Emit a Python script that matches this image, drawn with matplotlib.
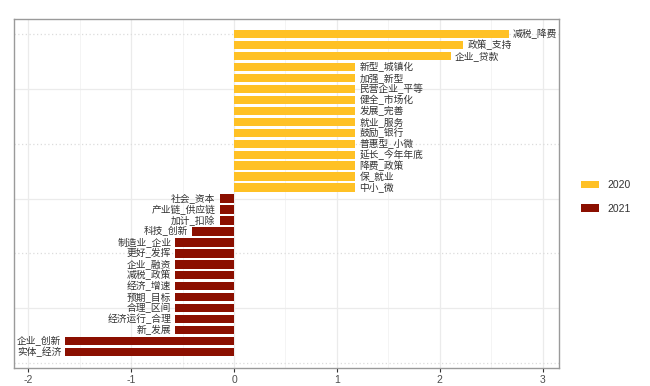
import matplotlib
matplotlib.use("Agg")
import matplotlib.pyplot as plt
from matplotlib.patches import Patch

plt.rcParams['font.family'] = ['Noto Sans CJK SC', 'DejaVu Sans']

labels_2020 = ["减税_降费", "政策_支持", "企业_贷款", "新型_城镇化", "加强_新型", "民营企业_平等",
               "健全_市场化", "发展_完善", "就业_服务", "鼓励_银行", "普惠型_小微", "延长_今年年底",
               "降费_政策", "保_就业", "中小_微"]
values_2020 = [2.67, 2.23, 2.11, 1.18, 1.18, 1.18, 1.18, 1.18, 1.18, 1.18, 1.18, 1.18, 1.18, 1.18, 1.18]

labels_2021 = ["社会_资本", "产业链_供应链", "加计_扣除", "科技_创新", "制造业_企业", "更好_发挥",
               "企业_融资", "减税_政策", "经济_增速", "预期_目标", "合理_区间", "经济运行_合理",
               "新_发展", "企业_创新", "实体_经济"]
values_2021 = [-0.14, -0.14, -0.14, -0.41, -0.57, -0.57, -0.57, -0.57, -0.57, -0.57, -0.57, -0.57,
               -0.57, -1.64, -1.64]

xticks = [-2, -1, 0, 1, 2, 3]
years = ["2020", "2021"]
colors = {"2020": "#FFC125", "2021": "#8B0F00"}

fig = plt.figure(figsize=(6.5, 3.86), dpi=100)
ax = fig.add_axes([14/650, 18/386, (559-14)/650, (368-19)/386])

labels = labels_2020 + labels_2021
values = values_2020 + values_2021
groups = ["2020"] * len(labels_2020) + ["2021"] * len(labels_2021)
n = len(labels)
ypos = [n - i for i in range(n)]

# grid
for x in xticks:
    ax.axvline(x, color="#ebebeb", lw=0.9, zorder=0)
for x in [-1.5, -0.5, 0.5, 1.5, 2.5]:
    ax.axvline(x, color="#f2f2f2", lw=0.6, zorder=0)
for y in [5, 15, 25]:
    ax.axhline(y, color="#ebebeb", lw=0.9, zorder=0)
for y in [0, 10, 20, 30]:
    ax.axhline(y, color="#dcdcdc", lw=0.9, ls=(0, (1, 2)), zorder=0)

for lab, v, g, y in zip(labels, values, groups, ypos):
    ax.barh(y, v, height=0.76, color=colors[g], zorder=2)
    if v >= 0:
        ax.text(v + 0.04, y, lab, ha="left", va="center", fontsize=7, color="#333333", zorder=3)
    else:
        ax.text(v - 0.04, y, lab, ha="right", va="center", fontsize=7, color="#333333", zorder=3)

ax.set_xlim(-2.14, 3.16)
ax.set_ylim(-0.45, 31.37)
ax.set_xticks(xticks)
ax.set_xticklabels([str(t) for t in xticks], family=["Liberation Sans", "DejaVu Sans"])
ax.set_yticks([])
ax.tick_params(axis="x", length=3, width=0.8, color="#333333", labelsize=7.5,
               labelcolor="#4d4d4d", pad=2)
for s in ax.spines.values():
    s.set_color("#9a9a9a")
    s.set_linewidth(1.0)

handles = [Patch(facecolor=colors[y], edgecolor="none", label=y) for y in years]
leg = fig.legend(handles=handles, loc="center left", bbox_to_anchor=(572/650, 1 - 197/386),
                 frameon=False, fontsize=7.5, handlelength=1.7, handleheight=0.7,
                 labelspacing=1.3, prop={"family": ["Liberation Sans", "DejaVu Sans"], "size": 7.5})
for t in leg.get_texts():
    t.set_color("#333333")

fig.savefig("out.png", dpi=100)
